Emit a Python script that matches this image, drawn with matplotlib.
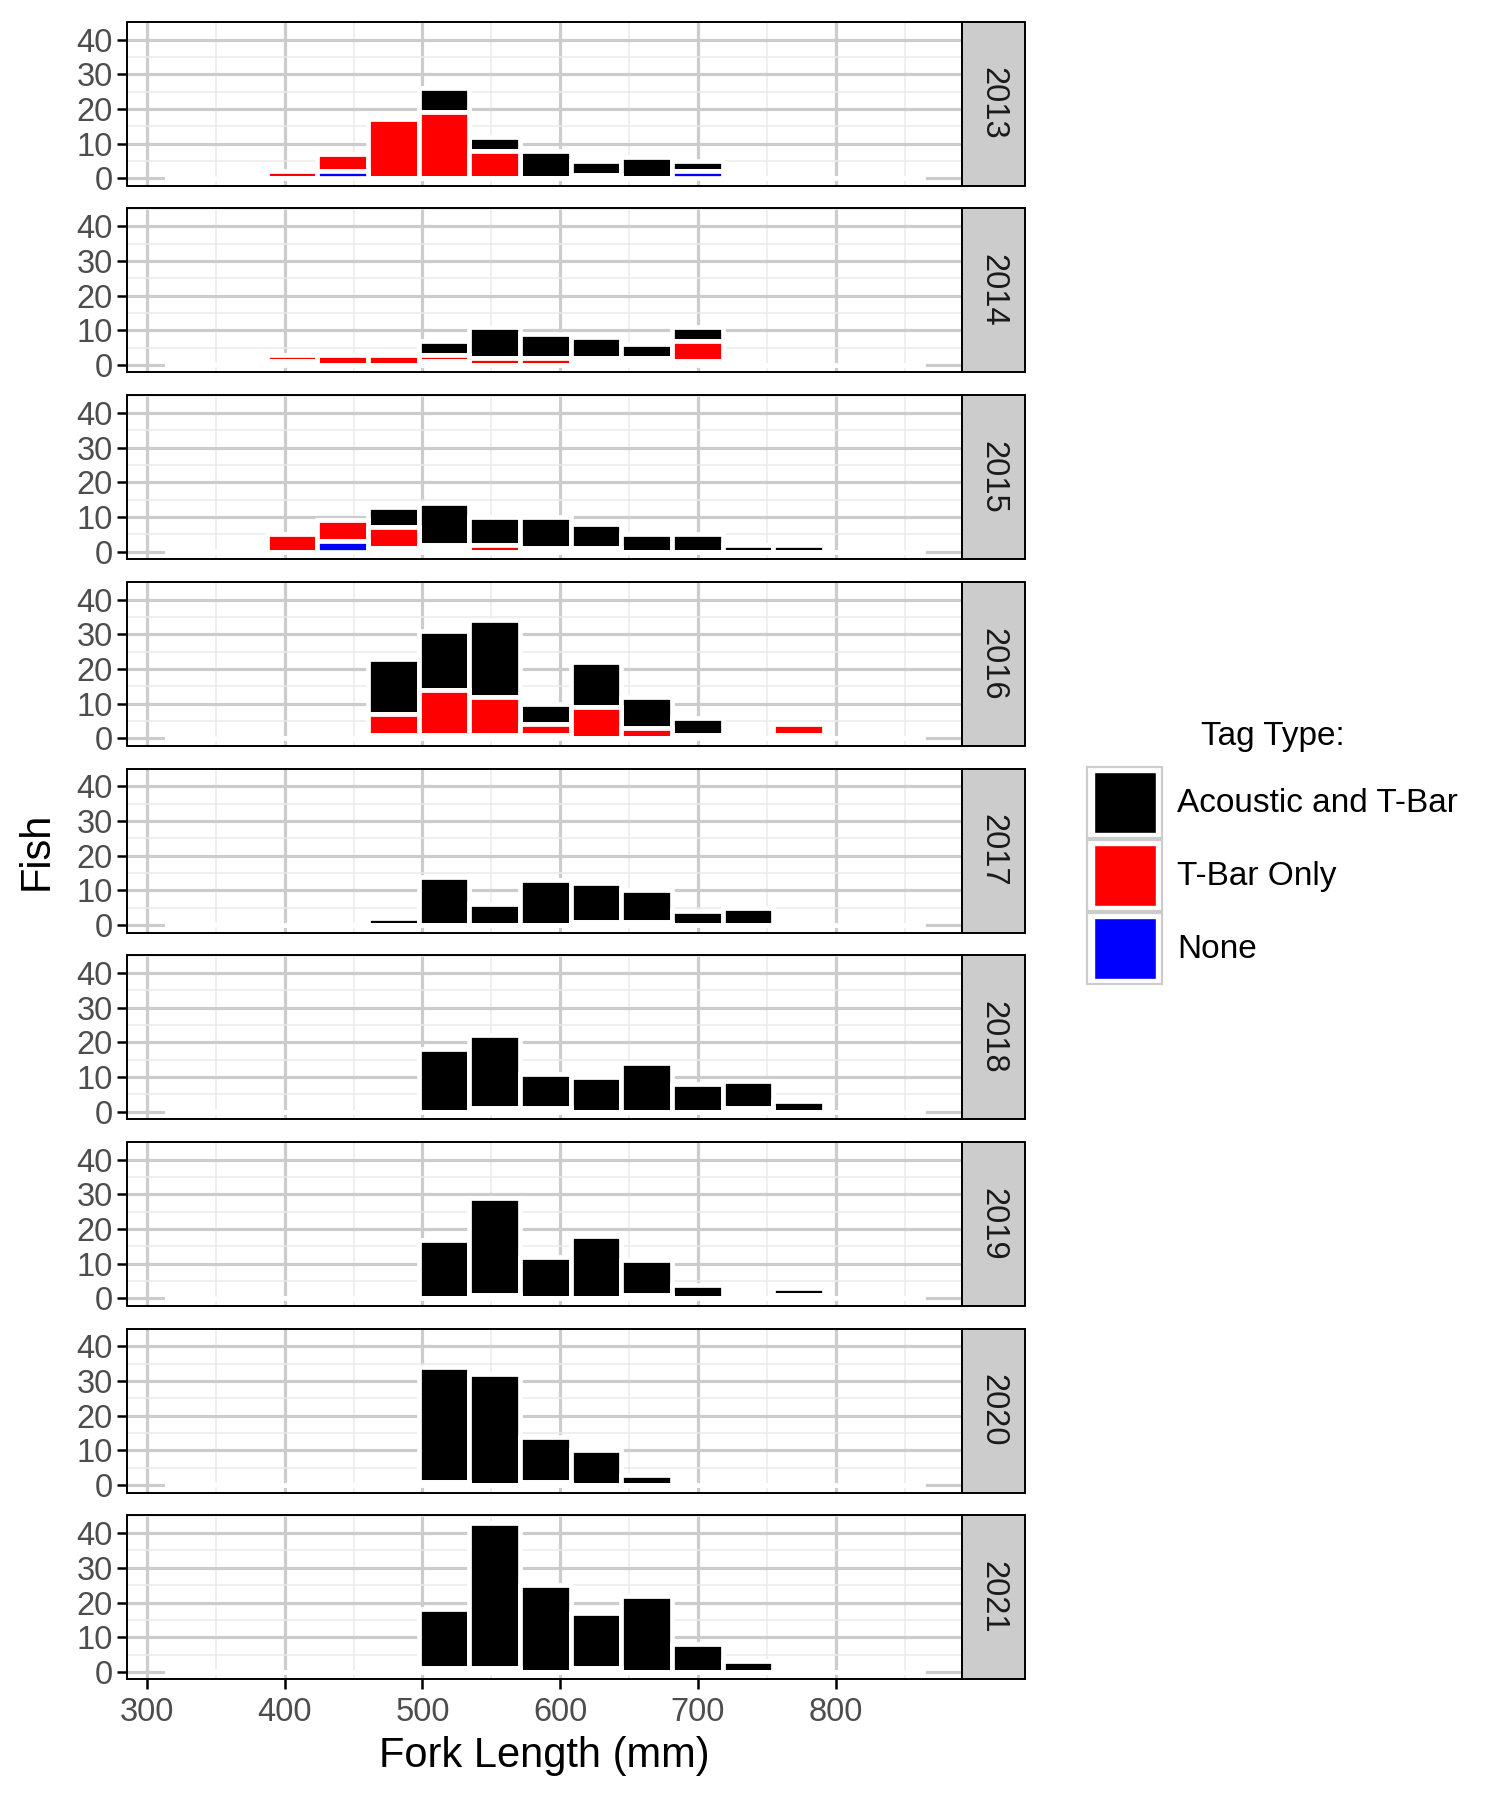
import matplotlib.pyplot as plt
from matplotlib.patches import Rectangle

plt.rcParams['font.family'] = ['Liberation Sans', 'DejaVu Sans']

years = [2013, 2014, 2015, 2016, 2017, 2018, 2019, 2020, 2021]

# histogram bins (fork length, mm)
bin_start = 331.6
bin_width = 36.8
n_bins = 15

# counts per bin, one row per year
acoustic = [
    [0, 0, 0, 0, 0, 7, 4, 8, 4, 6, 3, 0, 0, 0, 0],
    [0, 0, 0, 0, 0, 4, 9, 7, 6, 4, 4, 0, 0, 0, 0],
    [0, 0, 0, 0, 6, 12, 8, 9, 7, 5, 5, 2, 2, 0, 0],
    [0, 0, 0, 0, 16, 17, 22, 6, 13, 9, 5, 0, 0, 0, 0],
    [0, 0, 0, 0, 2, 14, 6, 13, 11, 9, 4, 5, 0, 0, 0],
    [0, 0, 0, 0, 0, 18, 21, 10, 10, 14, 8, 8, 3, 0, 0],
    [0, 0, 0, 0, 0, 17, 28, 12, 18, 10, 4, 0, 2, 0, 0],
    [0, 0, 0, 0, 0, 33, 32, 13, 10, 3, 0, 0, 0, 0, 0],
    [0, 0, 0, 0, 0, 17, 42, 25, 16, 22, 8, 3, 0, 0, 0],
]
tbar_only = [
    [0, 0, 2, 5, 17, 19, 8, 0, 1, 0, 0, 0, 0, 0, 0],
    [0, 0, 2, 3, 3, 2, 2, 2, 1, 1, 6, 0, 0, 0, 0],
    [0, 0, 5, 6, 6, 1, 2, 1, 1, 0, 0, 0, 0, 0, 0],
    [0, 0, 0, 0, 6, 13, 11, 3, 9, 3, 1, 0, 3, 0, 0],
    [0, 0, 0, 0, 0, 0, 0, 0, 1, 1, 0, 0, 0, 0, 0],
    [0, 0, 0, 0, 0, 0, 1, 1, 0, 0, 0, 1, 0, 0, 0],
    [0, 0, 0, 0, 0, 0, 1, 0, 0, 1, 0, 0, 1, 0, 0],
    [0, 0, 0, 0, 0, 1, 0, 1, 0, 0, 0, 0, 0, 0, 0],
    [0, 0, 0, 0, 0, 1, 1, 0, 1, 0, 0, 0, 0, 0, 0],
]
no_tag = [
    [0, 0, 0, 2, 0, 0, 0, 0, 0, 0, 2, 0, 0, 0, 0],
    [0, 0, 1, 0, 0, 1, 0, 0, 1, 1, 1, 0, 0, 0, 0],
    [0, 0, 0, 3, 1, 1, 0, 0, 0, 0, 0, 0, 0, 0, 0],
    [0, 0, 0, 0, 1, 1, 1, 1, 0, 0, 0, 0, 1, 0, 0],
    [0] * 15,
    [0] * 15,
    [0] * 15,
    [0] * 15,
    [0] * 15,
]

tag_labels = ['Acoustic and T-Bar', 'T-Bar Only', 'None']
tag_colors = ['black', 'red', 'blue']

centers = [bin_start + i * bin_width for i in range(n_bins)]

W, H = 1500, 1800
fig = plt.figure(figsize=(W / 100, H / 100), dpi=100)

panel_left, panel_right = 127.3, 961.7
panel_h, panel_step, first_top = 164, 186.7, 21.7
strip_w = 63

for i, year in enumerate(years):
    top = first_top + i * panel_step
    ax = fig.add_axes([panel_left / W, 1 - (top + panel_h) / H,
                       (panel_right - panel_left) / W, panel_h / H])

    red_base = no_tag[i]
    black_base = [a + b for a, b in zip(no_tag[i], tbar_only[i])]
    ax.bar(centers, acoustic[i], bin_width, bottom=black_base, color='black',
           edgecolor='white', linewidth=3.4)
    ax.bar(centers, tbar_only[i], bin_width, bottom=red_base, color='red',
           edgecolor='white', linewidth=3.4)
    ax.bar(centers, no_tag[i], bin_width, color='blue',
           edgecolor='white', linewidth=3.4)

    ax.set_xlim(285.7, 891.5)
    ax.set_ylim(-2.15, 45.15)
    ax.set_xticks([300, 400, 500, 600, 700, 800])
    ax.set_xticks([350, 450, 550, 650, 750, 850], minor=True)
    ax.set_yticks([0, 10, 20, 30, 40])
    ax.set_yticks([5, 15, 25, 35, 45], minor=True)
    ax.set_axisbelow(True)
    ax.grid(which='major', color='#CCCCCC', linewidth=2.3)
    ax.grid(which='minor', color='#EBEBEB', linewidth=1.1)
    ax.tick_params(which='minor', length=0)
    ax.tick_params(axis='y', length=7.5, width=1.8, color='black',
                   labelsize=23.5, labelcolor='#4D4D4D', pad=3)
    if i < len(years) - 1:
        ax.tick_params(axis='x', length=0, labelbottom=False)
    else:
        ax.tick_params(axis='x', length=7, width=1.8, color='black',
                       labelsize=23.5, labelcolor='#4D4D4D', pad=6)
    for s in ax.spines.values():
        s.set_color('black')
        s.set_linewidth(1.4)

    st = fig.add_axes([panel_right / W, 1 - (top + panel_h) / H,
                       strip_w / W, panel_h / H])
    st.set_facecolor('#CCCCCC')
    st.set_xticks([])
    st.set_yticks([])
    for s in st.spines.values():
        s.set_color('black')
        s.set_linewidth(1.4)
    st.text(0.5, 0.5, str(year), rotation=270, ha='center', va='center',
            fontsize=23.5, color='#1A1A1A', transform=st.transAxes)

fig.text(37 / W, 1 - 850.5 / H, 'Fish', rotation=90, ha='center', va='center',
         fontsize=30)
fig.text(544.5 / W, 1 - 1756 / H, 'Fork Length (mm)', ha='center', va='center',
         fontsize=30)

# legend
leg = fig.add_axes([0, 0, 1, 1])
leg.set_xlim(0, W)
leg.set_ylim(H, 0)
leg.axis('off')
leg.text(1273, 736, 'Tag Type:', ha='center', va='center', fontsize=24)
for j, (lab, col) in enumerate(zip(tag_labels, tag_colors)):
    y0 = 767 + j * 73
    leg.add_patch(Rectangle((1087, y0), 75, 71, facecolor='white',
                            edgecolor='#CCCCCC', linewidth=1.6))
    leg.add_patch(Rectangle((1094, y0 + 5), 62, 61, facecolor=col,
                            edgecolor='white', linewidth=1))
    leg.text(1177, y0 + 37, lab, ha='left', va='center', fontsize=24)

fig.savefig('out.png', dpi=100)
